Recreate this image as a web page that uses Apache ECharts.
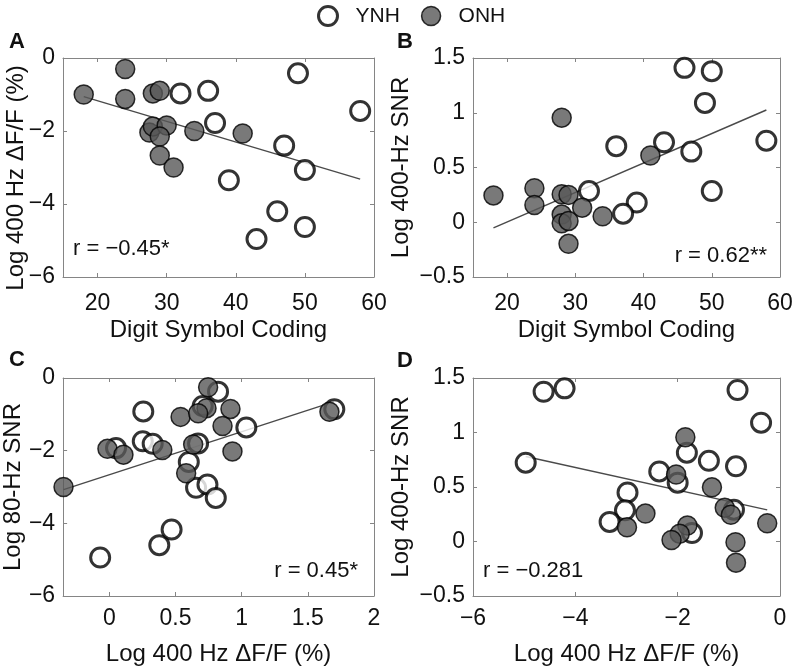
<!DOCTYPE html>
<html><head><meta charset="utf-8">
<script src="https://cdn.jsdelivr.net/npm/echarts@6/dist/echarts.min.js"></script>
<style>html,body{margin:0;padding:0;background:#fff}#c{width:796px;height:667px}</style>
</head><body><div id="c"></div>
<script>
// ---- data ----
const abXTicks = [20, 30, 40, 50, 60];
const acYTicks = [-6, -4, -2, 0];
const bdYTicks = [-0.5, 0, 0.5, 1, 1.5];
const cXTicks = [0, 0.5, 1, 1.5, 2];
const dXTicks = [-6, -4, -2, 0];

// Panel A: Digit Symbol Coding vs Log 400 Hz dF/F
const aYNH = [[32,-0.97],[36,-0.9],[49,-0.42],[58,-1.45],[37,-1.78],[47,-2.4],[50,-3.07],[39,-3.35],[46,-4.2],[50,-4.63],[43,-4.96]];
const aONH = [[18,-1.0],[24,-0.3],[24,-1.12],[28,-0.97],[29,-0.9],[27.5,-2.04],[28,-1.88],[30,-1.85],[29,-2.15],[29,-2.67],[31,-3.0],[34,-2.0],[41,-2.07]];
const aFit = [[18,-1.06],[58,-3.32]];

// Panel B: Digit Symbol Coding vs Log 400-Hz SNR
const bYNH = [[46,1.41],[50,1.38],[49,1.09],[58,0.745],[43,0.73],[47,0.645],[36,0.695],[50,0.285],[32,0.285],[39,0.18],[37,0.078]];
const bONH = [[18,0.245],[24,0.31],[24,0.158],[28,0.955],[28,0.07],[28,-0.01],[28,0.256],[29,0.25],[29,0.012],[29,-0.197],[31,0.133],[34,0.055],[41,0.61]];
const bFit = [[18,-0.052],[58,1.025]];

// Panel C: Log 400 Hz dF/F vs Log 80-Hz SNR
const cYNH = [[-0.07,-4.94],[0.256,-0.92],[0.252,-1.74],[0.327,-1.81],[0.05,-1.93],[0.377,-4.6],[0.47,-4.17],[0.60,-2.31],[0.655,-3.02],[0.741,-2.93],[0.804,-3.3],[0.821,-0.375],[0.705,-0.77],[1.035,-1.36],[0.67,-1.8],[1.70,-0.86]];
const cONH = [[-0.347,-3.0],[-0.015,-1.95],[0.106,-2.11],[0.40,-1.98],[0.538,-1.07],[0.633,-1.83],[0.58,-2.62],[0.746,-0.255],[0.734,-0.83],[0.671,-0.97],[0.915,-0.85],[0.855,-1.32],[0.93,-2.02],[1.663,-0.93]];
const cFit = [[-0.347,-3.07],[1.70,-0.65]];

// Panel D: Log 400 Hz dF/F vs Log 400-Hz SNR
const dYNH = [[-4.62,1.374],[-4.21,1.405],[-4.97,0.723],[-0.83,1.39],[-0.37,1.09],[-0.86,0.69],[-1.82,0.815],[-1.39,0.74],[-2.36,0.643],[-2.0,0.54],[-2.98,0.45],[-3.03,0.286],[-3.33,0.18],[-0.90,0.292],[-1.72,0.078]];
const dONH = [[-1.85,0.956],[-2.03,0.615],[-1.33,0.497],[-2.63,0.256],[-2.99,0.13],[-1.08,0.31],[-0.96,0.245],[-0.25,0.167],[-1.81,0.147],[-1.96,0.072],[-2.12,0.014],[-0.87,-0.006],[-0.86,-0.194]];
const dFit = [[-4.97,0.78],[-0.25,0.29]];

// ---- chart ----
const FONT = '"Liberation Sans", Arial, Helvetica, sans-serif';
const TXT = '#111';
const AX = '#858585';
const fmt = v => String(v).replace('-', '\u2212');

const grids = [
  {left: 63, top: 58, width: 311, height: 219},
  {left: 473, top: 58, width: 307, height: 219},
  {left: 63, top: 378, width: 311, height: 219},
  {left: 473, top: 378, width: 307, height: 218}
];

const xAxes = [], yAxes = [];
function addAxes(gi, xr, yr, xt, yt, xname, yname, xGap, yGap, xMargin) {
  const common = {
    gridIndex: gi, type: 'value', splitLine: {show: false},
    axisLine: {show: true, onZero: false, lineStyle: {color: AX, width: 1}}
  };
  xAxes.push(Object.assign({}, common, {
    min: xr[0], max: xr[1], position: 'bottom',
    axisTick: {show: true, inside: true, length: 4, customValues: xt, lineStyle: {color: AX}},
    axisLabel: {customValues: xt, formatter: fmt, color: TXT, fontSize: 23, fontFamily: FONT, margin: xMargin},
    name: xname, nameLocation: 'middle', nameGap: xGap,
    nameTextStyle: {fontSize: 24, color: TXT, fontFamily: FONT}
  }));
  xAxes.push(Object.assign({}, common, {
    min: xr[0], max: xr[1], position: 'top',
    axisTick: {show: true, inside: true, length: 4, customValues: xt, lineStyle: {color: AX}},
    axisLabel: {show: false}
  }));
  yAxes.push(Object.assign({}, common, {
    min: yr[0], max: yr[1], position: 'left',
    axisTick: {show: true, inside: true, length: 4, customValues: yt, lineStyle: {color: AX}},
    axisLabel: {customValues: yt, formatter: fmt, color: TXT, fontSize: 23, fontFamily: FONT, margin: 8},
    name: yname, nameLocation: 'middle', nameGap: yGap,
    nameTextStyle: {fontSize: 24, color: TXT, fontFamily: FONT}
  }));
  yAxes.push(Object.assign({}, common, {
    min: yr[0], max: yr[1], position: 'right',
    axisTick: {show: true, inside: true, length: 4, customValues: yt, lineStyle: {color: AX}},
    axisLabel: {show: false}
  }));
}
// panel A's y title is longer than its axis, so it is drawn as a graphic text below
addAxes(0, [15, 60], [-6, 0], abXTicks, acYTicks, 'Digit Symbol Coding', '', 41, 35, 15);
addAxes(1, [15, 60], [-0.5, 1.5], abXTicks, bdYTicks, 'Digit Symbol Coding', 'Log 400-Hz SNR', 41, 60, 15);
addAxes(2, [-0.35, 2], [-6, 0], cXTicks, acYTicks, 'Log 400 Hz \u0394F/F (%)', 'Log 80-Hz SNR', 46, 36, 11);
addAxes(3, [-6, 0], [-0.5, 1.5], dXTicks, bdYTicks, 'Log 400 Hz \u0394F/F (%)', 'Log 400-Hz SNR', 46, 60, 11);

const openStyle = {color: '#ffffff', borderColor: '#000', borderWidth: 3};
const fillStyle = {color: '#575757', borderColor: '#000', borderWidth: 1.5};
const series = [];
[[aYNH, aONH, aFit], [bYNH, bONH, bFit], [cYNH, cONH, cFit], [dYNH, dONH, dFit]].forEach((p, i) => {
  series.push({type: 'line', xAxisIndex: 2*i, yAxisIndex: 2*i, data: p[2], symbol: 'none', silent: true,
    lineStyle: {color: '#4a4a4a', width: 1.4}, z: 1});
  series.push({name: 'YNH', type: 'scatter', xAxisIndex: 2*i, yAxisIndex: 2*i, data: p[0],
    symbol: 'circle', symbolSize: 19, itemStyle: openStyle, z: 2});
  series.push({name: 'ONH', type: 'scatter', xAxisIndex: 2*i, yAxisIndex: 2*i, data: p[1],
    symbol: 'circle', symbolSize: 19, itemStyle: fillStyle, z: 3});
});

const txt = (t, x, y, align, bold, size, rot) => ({
  type: 'text', x: x, y: y, rotation: rot || 0, silent: true,
  style: {text: t, fill: TXT, font: (bold ? 'bold ' : '') + size + 'px ' + FONT,
    textAlign: align, textVerticalAlign: 'middle'}
});

const option = {
  animation: false,
  backgroundColor: '#fff',
  grid: grids,
  xAxis: xAxes,
  yAxis: yAxes,
  legend: {
    data: [{name: 'YNH', itemStyle: {color: '#fff', borderColor: '#000', borderWidth: 3}},
           {name: 'ONH', itemStyle: {color: '#575757', borderColor: '#000', borderWidth: 1.5}}],
    icon: 'circle', itemWidth: 19, itemHeight: 19, left: 312, top: 0, itemGap: 21,
    textStyle: {fontSize: 21, color: TXT, fontFamily: FONT, padding: [0, 0, 0, 13]}
  },
  graphic: [
    txt('Log 400 Hz \u0394F/F (%)', 16, 178, 'center', false, 24, Math.PI / 2),
    txt('A', 9, 42, 'left', true, 22),
    txt('B', 397, 42, 'left', true, 22),
    txt('C', 9, 360, 'left', true, 22),
    txt('D', 397, 361, 'left', true, 22),
    txt('r = \u22120.45*', 73, 249, 'left', false, 22),
    txt('r = 0.62**', 767, 256, 'right', false, 22),
    txt('r = 0.45*', 358, 571, 'right', false, 22),
    txt('r = \u22120.281', 483, 571, 'left', false, 22)
  ],
  series: series
};
const chart = echarts.init(document.getElementById('c'));
chart.setOption(option);
</script></body></html>
